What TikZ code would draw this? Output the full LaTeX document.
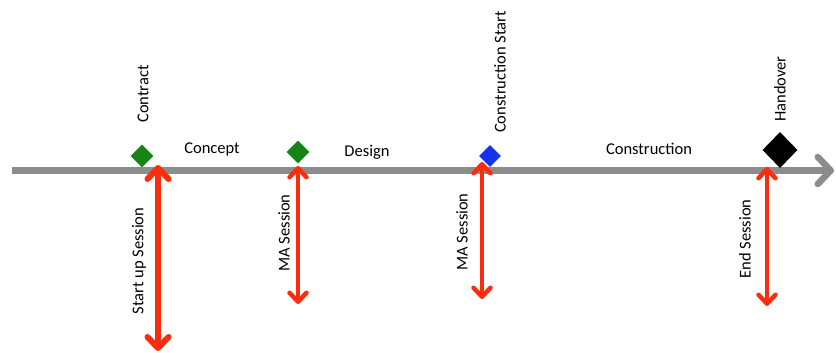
\documentclass[tikz,border=0pt]{standalone}
\usepackage{fontspec}
\setmainfont{Carlito}
\usetikzlibrary{arrows.meta,shapes.geometric}
\definecolor{lineGray}{RGB}{140,140,140}
\definecolor{msGreen}{RGB}{22,132,22}
\definecolor{msBlue}{RGB}{20,50,240}
\definecolor{arrRed}{RGB}{250,45,15}
\tikzset{
  lbl/.style={font=\fontsize{16.5}{18}\selectfont, inner sep=0pt},
  vlbl/.style={lbl, rotate=90},
  milestone/.style={diamond, aspect=1, inner sep=0pt, minimum width=23pt, minimum height=23pt, draw=none},
  timeline/.style={draw=lineGray, line width=6.5pt, -{Straight Barb[length=13pt,width=27pt,round]}},
  session/.style={draw=arrRed, line width=4.5pt, {Straight Barb[length=9pt,width=17pt,round]}-{Straight Barb[length=9pt,width=17pt,round]}},
  bigsession/.style={draw=arrRed, line width=6pt, {Straight Barb[length=11pt,width=21pt,round]}-{Straight Barb[length=11pt,width=21pt,round]}}
}
\begin{document}
\begin{tikzpicture}[x=1pt,y=-1pt]
\useasboundingbox (0,0) rectangle (836,353);
% timeline
\coordinate (tlS) at (12,170.5);
\coordinate (tlE) at (834,170.5);
\draw[timeline] (tlS) -- (tlE);
% session arrows
\coordinate (s1t) at (158,165);
\coordinate (s1b) at (158,351);
\draw[bigsession] (s1t) -- (s1b);
\coordinate (s2t) at (298,166);
\coordinate (s2b) at (298,304);
\draw[session] (s2t) -- (s2b);
\coordinate (s3t) at (482,162);
\coordinate (s3b) at (482,299);
\draw[session] (s3t) -- (s3b);
\coordinate (s4t) at (767,167);
\coordinate (s4b) at (767,306);
\draw[session] (s4t) -- (s4b);
% milestones
\node[milestone, fill=msGreen] (m1) at (142,156) {};
\node[milestone, fill=msGreen] (m2) at (298,152) {};
\node[milestone, fill=msBlue, minimum width=22pt, minimum height=22pt] (m3) at (490,156) {};
\node[milestone, fill=black, minimum width=35pt, minimum height=36pt] (m4) at (780,150) {};
% milestone labels
\node[vlbl] (l1) at (143,94) {Contract};
\node[vlbl] (l3) at (500,72) {Construction Start};
\node[vlbl] (l4) at (780,89) {Handover};
% phase labels
\node[lbl] (p1) at (212,149) {Concept};
\node[lbl] (p2) at (367,152) {Design};
\node[lbl] (p3) at (649,149) {Construction};
% session labels
\node[vlbl] (sl1) at (139,261) {Start up Session};
\node[vlbl] (sl2) at (284,233) {MA Session};
\node[vlbl] (sl3) at (462,232) {MA Session};
\node[vlbl] (sl4) at (745,239) {End Session};
\end{tikzpicture}
\end{document}
